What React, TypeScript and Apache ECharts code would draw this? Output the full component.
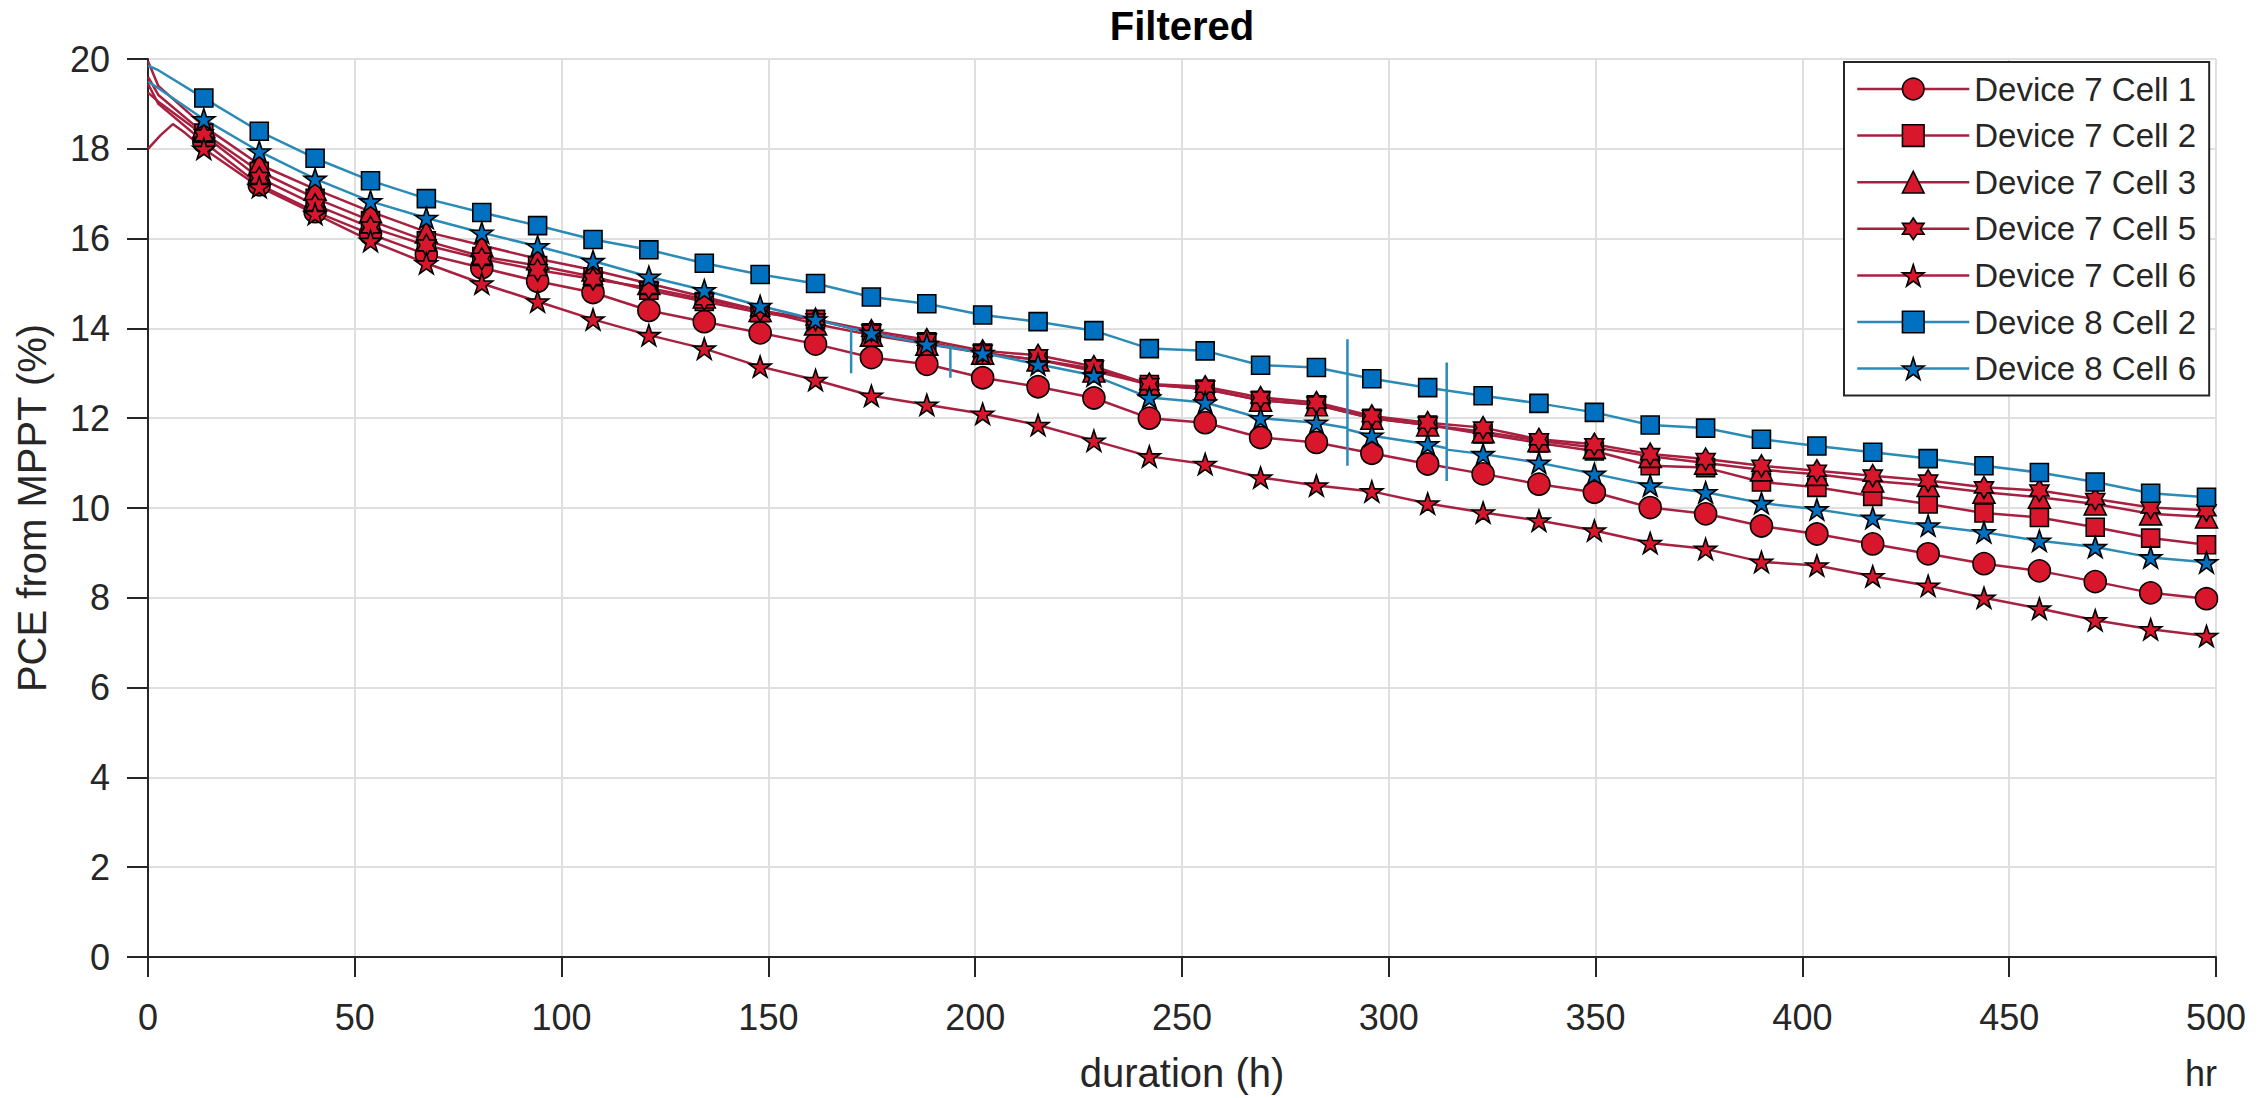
import React, { useEffect, useRef } from "react";
import * as echarts from "echarts";

// Hours at which MATLAB drew the markers (shared by all series)
const markerHours = [
  13.5, 26.9, 40.4, 53.8, 67.3, 80.7, 94.2, 107.6, 121.1, 134.5, 148.0, 161.4,
  174.9, 188.3, 201.8, 215.2, 228.7, 242.1, 255.6, 269.0, 282.5, 295.9, 309.4,
  322.8, 336.3, 349.7, 363.2, 376.6, 390.1, 403.5, 417.0, 430.4, 443.9, 457.3,
  470.8, 484.2, 497.7,
];

// PCE (%) at the marker hours
const d7c1 = [
  18.15, 17.2, 16.6, 16.1, 15.65, 15.35, 15.05, 14.8, 14.4, 14.15, 13.9, 13.65,
  13.35, 13.2, 12.9, 12.7, 12.45, 12.0, 11.9, 11.57, 11.46, 11.22, 10.98, 10.76,
  10.53, 10.35, 10.01, 9.87, 9.6, 9.42, 9.2, 8.98, 8.76, 8.6, 8.36, 8.11, 7.98,
];
const d7c2 = [
  18.35, 17.5, 16.9, 16.4, 15.95, 15.6, 15.4, 15.15, 14.85, 14.6, 14.35, 14.2,
  13.9, 13.7, 13.45, 13.3, 13.1, 12.75, 12.65, 12.4, 12.3, 12.0, 11.85, 11.65,
  11.45, 11.27, 10.94, 10.9, 10.58, 10.46, 10.26, 10.09, 9.89, 9.79, 9.57, 9.33, 9.18,
];
const d7c3 = [
  18.5, 17.65, 17.1, 16.6, 16.15, 15.85, 15.55, 15.3, 15.0, 14.7, 14.4, 14.1,
  13.85, 13.65, 13.45, 13.3, 13.05, 12.75, 12.65, 12.4, 12.3, 12.0, 11.85, 11.7,
  11.5, 11.35, 11.15, 11.0, 10.85, 10.75, 10.6, 10.5, 10.35, 10.24, 10.09, 9.87, 9.8,
];
const d7c5 = [
  18.3, 17.35, 16.75, 16.25, 15.85, 15.55, 15.3, 15.1, 14.9, 14.65, 14.4, 14.2,
  13.95, 13.75, 13.5, 13.4, 13.15, 12.76, 12.7, 12.46, 12.35, 12.05, 11.9, 11.79,
  11.53, 11.42, 11.2, 11.09, 10.94, 10.83, 10.72, 10.61, 10.46, 10.39, 10.2, 10.01, 9.95,
];
const d7c6 = [
  18.0, 17.15, 16.55, 15.95, 15.45, 15.0, 14.6, 14.2, 13.85, 13.55, 13.15, 12.85,
  12.5, 12.3, 12.1, 11.85, 11.5, 11.15, 10.98, 10.68, 10.5, 10.37, 10.1, 9.9,
  9.72, 9.5, 9.22, 9.09, 8.8, 8.72, 8.48, 8.27, 8.0, 7.76, 7.5, 7.3, 7.15,
];
const d8c2 = [
  19.13, 18.39, 17.79, 17.29, 16.89, 16.58, 16.29, 15.98, 15.75, 15.45, 15.2, 15.0,
  14.7, 14.55, 14.3, 14.15, 13.95, 13.55, 13.5, 13.18, 13.13, 12.88, 12.68, 12.5,
  12.33, 12.13, 11.85, 11.78, 11.53, 11.38, 11.24, 11.1, 10.94, 10.79, 10.58, 10.33, 10.24,
];
const d8c6 = [
  18.66, 17.94, 17.33, 16.83, 16.46, 16.13, 15.83, 15.5, 15.15, 14.85, 14.5, 14.2,
  13.9, 13.65, 13.45, 13.2, 12.95, 12.46, 12.35, 12.0, 11.9, 11.61, 11.42, 11.2,
  11.01, 10.76, 10.5, 10.35, 10.11, 9.97, 9.78, 9.61, 9.46, 9.27, 9.13, 8.9, 8.79,
];

// Extra line vertices (start of the run, spikes) without markers: [hour, PCE]
const d7c1Extra = [[0, 19.45], [2.5, 19.0]];
const d7c2Extra = [[0, 19.6], [2.5, 19.2]];
const d7c3Extra = [[0, 19.95], [2.5, 19.4]];
const d7c5Extra = [[0, 19.25], [2.5, 19.05]];
const d7c6Extra = [[0, 18.0], [3, 18.3], [6, 18.55], [9, 18.35]];
const d8c2Extra = [[0, 19.85], [2.5, 19.75]];
const d8c6Extra = [
  [0, 19.5], [2.5, 19.35],
  [170, 14.0], [170, 13.0], [170, 14.0],
  [194, 13.58], [194, 12.9], [194, 13.58],
  [290, 11.78], [290, 13.76], [290, 10.94], [290, 11.75],
  [314, 11.33], [314, 13.24], [314, 10.6], [314, 11.3],
];

const seriesNames = [
  "Device 7 Cell 1", "Device 7 Cell 2", "Device 7 Cell 3", "Device 7 Cell 5",
  "Device 7 Cell 6", "Device 8 Cell 2", "Device 8 Cell 6",
];
const xTicks = [0, 50, 100, 150, 200, 250, 300, 350, 400, 450, 500];

const STAR =
  "path://M50 0 L61.23 34.55 L97.55 34.55 L68.17 55.9 L79.39 90.45 L50 69.1 L20.61 90.45 L31.83 55.9 L2.45 34.55 L38.77 34.55 Z";
const HEXAGRAM =
  "path://M50 0 L64.43 25 L93.3 25 L78.87 50 L93.3 75 L64.43 75 L50 100 L35.57 75 L6.7 75 L21.13 50 L6.7 25 L35.57 25 Z";

const RED_LINE = "#A8203F";
const BLUE_LINE = "#2A8BB6";
const RED_FILL = "#D8172D";
const BLUE_FILL = "#0070C0";
const TEXT = "#262626";
const FONT = "'Liberation Sans', Arial, Helvetica, sans-serif";

const defs = [
  { values: d7c1, extra: d7c1Extra, symbol: "circle", size: 22, line: RED_LINE, fill: RED_FILL },
  { values: d7c2, extra: d7c2Extra, symbol: "rect", size: 18, line: RED_LINE, fill: RED_FILL },
  { values: d7c3, extra: d7c3Extra, symbol: "triangle", size: 22, line: RED_LINE, fill: RED_FILL },
  { values: d7c5, extra: d7c5Extra, symbol: HEXAGRAM, size: 22, line: RED_LINE, fill: RED_FILL },
  { values: d7c6, extra: d7c6Extra, symbol: STAR, size: 22, line: RED_LINE, fill: RED_FILL },
  { values: d8c2, extra: d8c2Extra, symbol: "rect", size: 18, line: BLUE_LINE, fill: BLUE_FILL },
  { values: d8c6, extra: d8c6Extra, symbol: STAR, size: 22, line: BLUE_LINE, fill: BLUE_FILL },
];

function buildData(values: number[], extra: number[][]) {
  const pts: { h: number; item: any }[] = [];
  extra.forEach(([h, v]) => pts.push({ h, item: { value: [h, v], symbol: "none" } }));
  markerHours.forEach((h, i) => pts.push({ h, item: { value: [h, values[i]] } }));
  pts.sort((a, b) => a.h - b.h);
  return pts.map((p) => p.item);
}

export default function App() {
  const ref = useRef<HTMLDivElement>(null);
  useEffect(() => {
    const chart = echarts.init(ref.current!, null, { renderer: "svg" });
    const series = defs.map((d, i) => ({
      type: "line",
      name: seriesNames[i],
      data: buildData(d.values, d.extra),
      symbol: d.symbol,
      symbolSize: d.size,
      symbolKeepAspect: true,
      showAllSymbol: true,
      lineStyle: { color: d.line, width: 2.5 },
      itemStyle: { color: d.fill, borderColor: "#000", borderWidth: 1.6 },
      emphasis: { disabled: true },
      silent: true,
    }));
    chart.setOption({
      animation: false,
      backgroundColor: "#fff",
      textStyle: { fontFamily: FONT },
      grid: { left: 148, right: 52, top: 59, bottom: 139, containLabel: false },
      xAxis: {
        type: "value",
        min: 0,
        max: 500,
        interval: 50,
        name: "duration (h)",
        nameLocation: "middle",
        nameGap: 96,
        nameTextStyle: { fontSize: 40, color: TEXT, fontFamily: FONT },
        axisLine: { show: true, onZero: false, lineStyle: { color: TEXT, width: 2 } },
        axisTick: { show: true, inside: false, length: 20, lineStyle: { color: TEXT, width: 2 } },
        axisLabel: {
          fontSize: 36,
          color: TEXT,
          margin: 42,
          fontFamily: FONT,
          formatter: (v: number) => (xTicks.includes(v) ? String(v) : ""),
        },
        splitLine: { show: true, lineStyle: { color: "#dfdfdf", width: 2 } },
      },
      yAxis: {
        type: "value",
        min: 0,
        max: 20,
        interval: 2,
        name: "PCE from MPPT (%)",
        nameLocation: "middle",
        nameGap: 96,
        nameRotate: 90,
        nameTextStyle: { fontSize: 40, color: TEXT, fontFamily: FONT },
        axisLine: { show: true, lineStyle: { color: TEXT, width: 2 } },
        axisTick: { show: true, inside: false, length: 21, lineStyle: { color: TEXT, width: 2 } },
        axisLabel: { fontSize: 36, color: TEXT, margin: 38, fontFamily: FONT },
        splitLine: { show: true, lineStyle: { color: "#dfdfdf", width: 2 } },
      },
      legend: {
        orient: "vertical",
        left: 1844,
        top: 62,
        padding: [9, 13, 9, 12],
        itemGap: 10.6,
        itemWidth: 112,
        itemHeight: 27,
        backgroundColor: "#fff",
        borderColor: TEXT,
        borderWidth: 2,
        borderRadius: 0,
        selectedMode: false,
        textStyle: { fontSize: 33, color: TEXT, lineHeight: 36, fontFamily: FONT },
        data: defs.map((d, i) => ({
          name: seriesNames[i],
          itemStyle: { color: d.fill, borderColor: "#000", borderWidth: 1.6 },
          lineStyle: { color: d.line, width: 2.5 },
        })),
      },
      graphic: [
        {
          type: "text",
          x: 1182,
          y: 26,
          style: {
            text: "Filtered",
            font: `bold 40px ${FONT}`,
            fill: "#000",
            textAlign: "center",
            textVerticalAlign: "middle",
          },
        },
        {
          type: "text",
          x: 2217,
          y: 1073,
          style: {
            text: "hr",
            font: `36px ${FONT}`,
            fill: TEXT,
            textAlign: "right",
            textVerticalAlign: "middle",
          },
        },
      ],
      series,
    });
    return () => chart.dispose();
  }, []);
  return (
    <div
      ref={ref}
      style={{ position: "absolute", left: 0, top: 0, width: "2268px", height: "1098px", background: "#fff" }}
    />
  );
}
